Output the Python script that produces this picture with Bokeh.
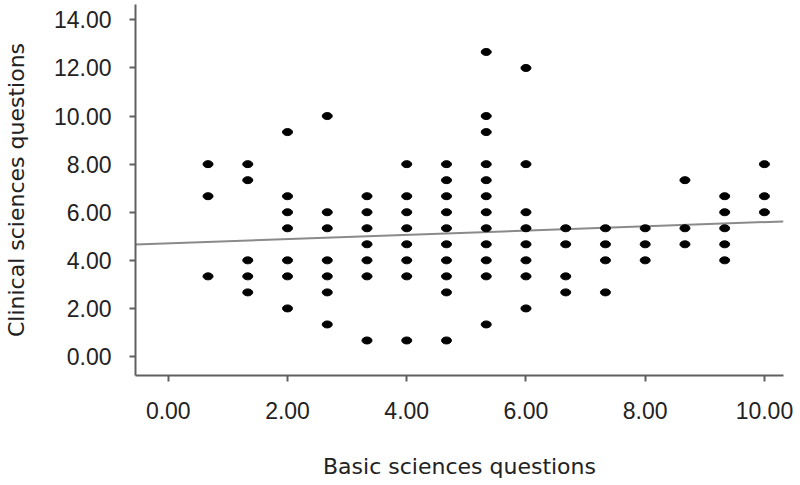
from bokeh.plotting import figure
from bokeh.embed import file_html
from bokeh.resources import INLINE
from bokeh.models import Range1d, FixedTicker, ColumnDataSource

# Data (values are multiples of 2/3)
t = 2.0 / 3.0
basic_cols = [1*t, 2*t, 3*t, 4*t, 5*t, 6*t, 7*t, 8*t, 9*t, 10*t, 11*t, 12*t, 13*t, 14*t, 15*t]
clinical_units = [
    [12, 10, 5],
    [12, 11, 6, 5, 4],
    [14, 10, 9, 8, 6, 5, 3],
    [15, 9, 8, 6, 5, 4, 2],
    [10, 9, 8, 7, 6, 5, 1],
    [12, 10, 9, 8, 7, 6, 5, 1],
    [12, 11, 10, 9, 8, 7, 6, 5, 4, 1],
    [19, 15, 14, 12, 11, 10, 9, 8, 7, 6, 5, 2],
    [18, 12, 9, 8, 7, 6, 5, 3],
    [8, 7, 5, 4],
    [8, 7, 6, 4],
    [8, 7, 6],
    [11, 8, 7],
    [10, 9, 8, 7, 6],
    [12, 10, 9],
]
fit_intercept = 4.71
fit_slope = 0.088
x_ticks = [0, 2, 4, 6, 8, 10]
y_ticks = [0, 2, 4, 6, 8, 10, 12, 14]
x_title = "Basic sciences questions"
y_title = "Clinical sciences questions"

xs, ys = [], []
for xv, col in zip(basic_cols, clinical_units):
    for u in col:
        xs.append(xv)
        ys.append(u * t)
src = ColumnDataSource(dict(x=xs, y=ys))

x_lo, x_hi = -0.55, 10.32
y_lo, y_hi = -0.79, 14.64

p = figure(width=800, height=485, output_backend="svg", toolbar_location=None,
           x_range=Range1d(x_lo, x_hi), y_range=Range1d(y_lo, y_hi),
           min_border_left=131, min_border_right=21, min_border_top=4,
           min_border_bottom=110, frame_width=648, frame_height=371)
p.outline_line_color = None
p.grid.grid_line_color = None
p.background_fill_color = "white"

for ax in (p.xaxis[0], p.yaxis[0]):
    ax.axis_line_color = "#606060"
    ax.axis_line_width = 2
    ax.major_tick_line_color = "#606060"
    ax.major_tick_line_width = 2
    ax.major_tick_in = 0
    ax.major_tick_out = 6
    ax.minor_tick_line_color = None
    ax.major_label_text_font = "Liberation Sans"
    ax.major_label_text_font_size = "23px"
    ax.major_label_text_color = "#222222"
    ax.axis_label_text_font = "DejaVu Sans"
    ax.axis_label_text_font_size = "22px"
    ax.axis_label_text_font_style = "normal"
    ax.axis_label_text_color = "#222222"

p.xaxis[0].ticker = FixedTicker(ticks=x_ticks)
p.yaxis[0].ticker = FixedTicker(ticks=y_ticks)
p.xaxis[0].major_label_overrides = {v: f"{v:.2f}" for v in x_ticks}
p.yaxis[0].major_label_overrides = {v: f"{v:.2f}" for v in y_ticks}
p.xaxis[0].axis_label = x_title
p.yaxis[0].axis_label = y_title
p.xaxis[0].major_label_standoff = 20
p.yaxis[0].major_label_standoff = 18
p.xaxis[0].axis_label_standoff = 32
p.yaxis[0].axis_label_standoff = 22

p.line([x_lo, x_hi], [fit_intercept + fit_slope * x_lo, fit_intercept + fit_slope * x_hi],
       line_color="#8a8a8a", line_width=2)
p.ellipse(x="x", y="y", width=10, height=7, width_units="screen", height_units="screen",
          fill_color="black", line_color="black", source=src)

open("out.html", "w").write(file_html(p, INLINE))
